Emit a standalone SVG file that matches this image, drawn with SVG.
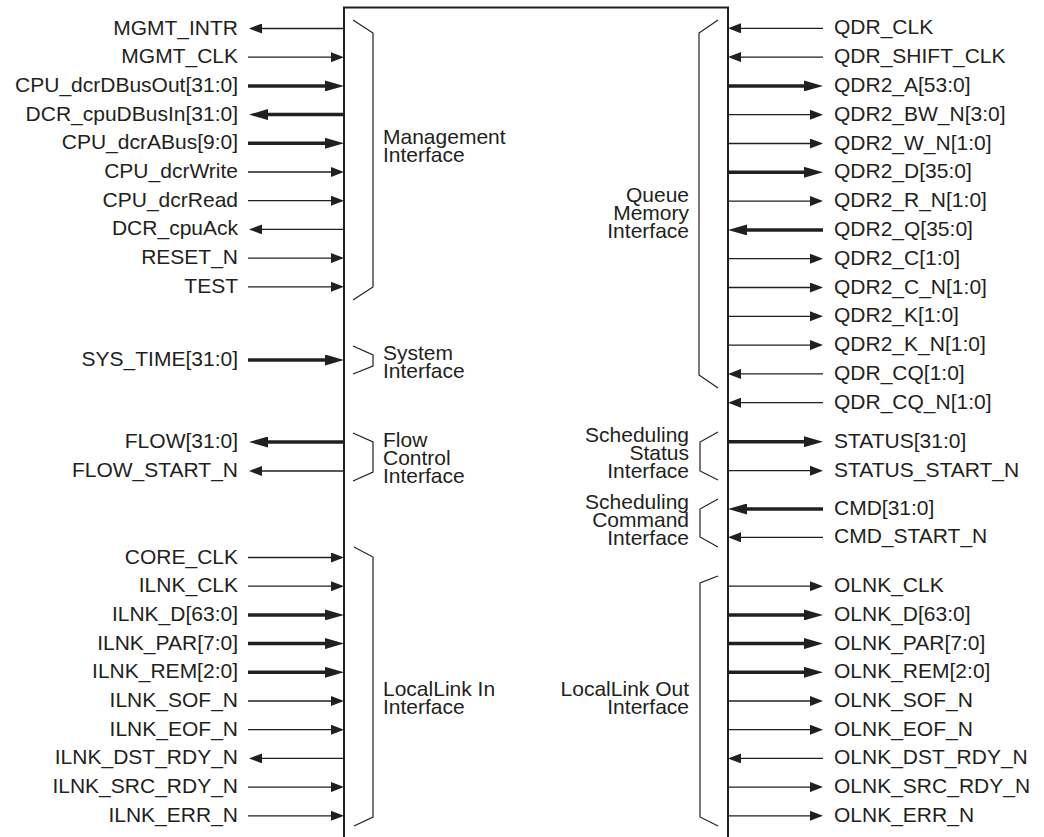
<svg xmlns="http://www.w3.org/2000/svg" width="1044" height="837" viewBox="0 0 1044 837">
<style>
.t{font-family:"Liberation Sans",Arial,Helvetica,sans-serif;font-size:21px;fill:#231f20}
.e{text-anchor:end}
.n{stroke:#231f20;stroke-width:1.3;fill:none}
.k{stroke:#231f20;stroke-width:3.5;fill:none}
.b{stroke:#231f20;stroke-width:1.2;fill:none}
</style>
<defs>
<marker id="an" markerUnits="userSpaceOnUse" markerWidth="13" markerHeight="10" refX="0" refY="5" orient="auto"><path d="M0,0 L13,5 L0,10 z" fill="#231f20"/></marker>
<marker id="ak" markerUnits="userSpaceOnUse" markerWidth="19" markerHeight="11" refX="0" refY="5.5" orient="auto"><path d="M0,0 L19,5.5 L0,11 z" fill="#231f20"/></marker>
</defs>
<rect width="1044" height="837" fill="#fff"/>
<g id="block">
<rect x="344" y="7.5" width="384" height="840" fill="none" stroke="#231f20" stroke-width="2"/>
</g>
<g id="brackets">
<path class="b" d="M353,20 L373,33 L373,287 L353,300"/>
<path class="b" d="M718,20 L699,33 L699,375 L718,388"/>
<path class="b" d="M353,346 L373,355 L373,366 L353,374"/>
<path class="b" d="M353,433 L373,442 L373,472 L353,481"/>
<path class="b" d="M718,432 L700,442 L700,471 L718,480"/>
<path class="b" d="M718,499 L700,509 L700,537 L718,547"/>
<path class="b" d="M354,547 L373,557 L373,817 L354,826"/>
<path class="b" d="M718,576 L700,583 L700,817 L718,826"/>
</g>
<g id="interface-labels" class="t">
<text x="383" y="144">Management</text><text x="383" y="162">Interface</text>
<text class="e" x="689" y="202">Queue</text><text class="e" x="689" y="220">Memory</text><text class="e" x="689" y="238">Interface</text>
<text x="383" y="360">System</text><text x="383" y="378">Interface</text>
<text x="383" y="447">Flow</text><text x="383" y="465">Control</text><text x="383" y="483">Interface</text>
<text class="e" x="689" y="442">Scheduling</text><text class="e" x="689" y="460">Status</text><text class="e" x="689" y="478">Interface</text>
<text class="e" x="689" y="509">Scheduling</text><text class="e" x="689" y="527">Command</text><text class="e" x="689" y="545">Interface</text>
<text x="383" y="696">LocalLink In</text><text x="383" y="714">Interface</text>
<text class="e" x="689" y="696">LocalLink Out</text><text class="e" x="689" y="714">Interface</text>
</g>
<g id="left-signals" class="t e">
<text x="238" y="34.5">MGMT_INTR</text>
<text x="238" y="63.2">MGMT_CLK</text>
<text x="238" y="91.9">CPU_dcrDBusOut[31:0]</text>
<text x="238" y="120.6">DCR_cpuDBusIn[31:0]</text>
<text x="238" y="149.3">CPU_dcrABus[9:0]</text>
<text x="238" y="178">CPU_dcrWrite</text>
<text x="238" y="206.7">CPU_dcrRead</text>
<text x="238" y="235.4">DCR_cpuAck</text>
<text x="238" y="264.1">RESET_N</text>
<text x="238" y="292.8">TEST</text>
<text x="238" y="366">SYS_TIME[31:0]</text>
<text x="238" y="448">FLOW[31:0]</text>
<text x="238" y="477">FLOW_START_N</text>
<text x="238" y="563.5">CORE_CLK</text>
<text x="238" y="592.2">ILNK_CLK</text>
<text x="238" y="620.9">ILNK_D[63:0]</text>
<text x="238" y="649.6">ILNK_PAR[7:0]</text>
<text x="238" y="678.3">ILNK_REM[2:0]</text>
<text x="238" y="707">ILNK_SOF_N</text>
<text x="238" y="735.7">ILNK_EOF_N</text>
<text x="238" y="764.4">ILNK_DST_RDY_N</text>
<text x="238" y="793.1">ILNK_SRC_RDY_N</text>
<text x="238" y="821.8">ILNK_ERR_N</text>
</g>
<g id="right-signals" class="t">
<text x="834" y="34.3">QDR_CLK</text>
<text x="834" y="63.1">QDR_SHIFT_CLK</text>
<text x="834" y="91.9">QDR2_A[53:0]</text>
<text x="834" y="120.7">QDR2_BW_N[3:0]</text>
<text x="834" y="149.5">QDR2_W_N[1:0]</text>
<text x="834" y="178.3">QDR2_D[35:0]</text>
<text x="834" y="207.1">QDR2_R_N[1:0]</text>
<text x="834" y="235.9">QDR2_Q[35:0]</text>
<text x="834" y="264.7">QDR2_C[1:0]</text>
<text x="834" y="293.5">QDR2_C_N[1:0]</text>
<text x="834" y="322.3">QDR2_K[1:0]</text>
<text x="834" y="351.1">QDR2_K_N[1:0]</text>
<text x="834" y="379.9">QDR_CQ[1:0]</text>
<text x="834" y="408.7">QDR_CQ_N[1:0]</text>
<text x="834" y="447.7">STATUS[31:0]</text>
<text x="834" y="476.7">STATUS_START_N</text>
<text x="834" y="515">CMD[31:0]</text>
<text x="834" y="543.3">CMD_START_N</text>
<text x="834" y="592.2">OLNK_CLK</text>
<text x="834" y="620.9">OLNK_D[63:0]</text>
<text x="834" y="649.6">OLNK_PAR[7:0]</text>
<text x="834" y="678.3">OLNK_REM[2:0]</text>
<text x="834" y="707">OLNK_SOF_N</text>
<text x="834" y="735.7">OLNK_EOF_N</text>
<text x="834" y="764.4">OLNK_DST_RDY_N</text>
<text x="834" y="793.1">OLNK_SRC_RDY_N</text>
<text x="834" y="821.8">OLNK_ERR_N</text>
</g>
<g id="connectors">
<line class="n" x1="344" y1="28.5" x2="262" y2="28.5" marker-end="url(#an)"/>
<line class="n" x1="248" y1="57.2" x2="331" y2="57.2" marker-end="url(#an)"/>
<line class="k" x1="248" y1="85.9" x2="325" y2="85.9" marker-end="url(#ak)"/>
<line class="k" x1="344" y1="114.6" x2="268" y2="114.6" marker-end="url(#ak)"/>
<line class="k" x1="248" y1="143.3" x2="325" y2="143.3" marker-end="url(#ak)"/>
<line class="n" x1="248" y1="172" x2="331" y2="172" marker-end="url(#an)"/>
<line class="n" x1="248" y1="200.7" x2="331" y2="200.7" marker-end="url(#an)"/>
<line class="n" x1="344" y1="229.4" x2="262" y2="229.4" marker-end="url(#an)"/>
<line class="n" x1="248" y1="258.1" x2="331" y2="258.1" marker-end="url(#an)"/>
<line class="n" x1="248" y1="286.8" x2="331" y2="286.8" marker-end="url(#an)"/>
<line class="k" x1="248" y1="360" x2="325" y2="360" marker-end="url(#ak)"/>
<line class="k" x1="344" y1="442" x2="268" y2="442" marker-end="url(#ak)"/>
<line class="n" x1="344" y1="471" x2="262" y2="471" marker-end="url(#an)"/>
<line class="n" x1="248" y1="557.5" x2="331" y2="557.5" marker-end="url(#an)"/>
<line class="n" x1="248" y1="586.2" x2="331" y2="586.2" marker-end="url(#an)"/>
<line class="k" x1="248" y1="614.9" x2="325" y2="614.9" marker-end="url(#ak)"/>
<line class="k" x1="248" y1="643.6" x2="325" y2="643.6" marker-end="url(#ak)"/>
<line class="k" x1="248" y1="672.3" x2="325" y2="672.3" marker-end="url(#ak)"/>
<line class="n" x1="248" y1="701" x2="331" y2="701" marker-end="url(#an)"/>
<line class="n" x1="248" y1="729.7" x2="331" y2="729.7" marker-end="url(#an)"/>
<line class="n" x1="344" y1="758.4" x2="262" y2="758.4" marker-end="url(#an)"/>
<line class="n" x1="248" y1="787.1" x2="331" y2="787.1" marker-end="url(#an)"/>
<line class="n" x1="248" y1="815.8" x2="331" y2="815.8" marker-end="url(#an)"/>

<line class="n" x1="823" y1="28.3" x2="741" y2="28.3" marker-end="url(#an)"/>
<line class="n" x1="823" y1="57.1" x2="741" y2="57.1" marker-end="url(#an)"/>
<line class="k" x1="728" y1="85.9" x2="804" y2="85.9" marker-end="url(#ak)"/>
<line class="n" x1="728" y1="114.7" x2="810" y2="114.7" marker-end="url(#an)"/>
<line class="n" x1="728" y1="143.5" x2="810" y2="143.5" marker-end="url(#an)"/>
<line class="k" x1="728" y1="172.3" x2="804" y2="172.3" marker-end="url(#ak)"/>
<line class="n" x1="728" y1="201.1" x2="810" y2="201.1" marker-end="url(#an)"/>
<line class="k" x1="823" y1="229.9" x2="747" y2="229.9" marker-end="url(#ak)"/>
<line class="n" x1="728" y1="258.7" x2="810" y2="258.7" marker-end="url(#an)"/>
<line class="n" x1="728" y1="287.5" x2="810" y2="287.5" marker-end="url(#an)"/>
<line class="n" x1="728" y1="316.3" x2="810" y2="316.3" marker-end="url(#an)"/>
<line class="n" x1="728" y1="345.1" x2="810" y2="345.1" marker-end="url(#an)"/>
<line class="n" x1="823" y1="373.9" x2="741" y2="373.9" marker-end="url(#an)"/>
<line class="n" x1="823" y1="402.7" x2="741" y2="402.7" marker-end="url(#an)"/>
<line class="k" x1="728" y1="441.7" x2="804" y2="441.7" marker-end="url(#ak)"/>
<line class="n" x1="728" y1="470.7" x2="810" y2="470.7" marker-end="url(#an)"/>
<line class="k" x1="823" y1="509" x2="747" y2="509" marker-end="url(#ak)"/>
<line class="n" x1="823" y1="537.3" x2="741" y2="537.3" marker-end="url(#an)"/>
<line class="n" x1="728" y1="586.2" x2="810" y2="586.2" marker-end="url(#an)"/>
<line class="k" x1="728" y1="614.9" x2="804" y2="614.9" marker-end="url(#ak)"/>
<line class="k" x1="728" y1="643.6" x2="804" y2="643.6" marker-end="url(#ak)"/>
<line class="k" x1="728" y1="672.3" x2="804" y2="672.3" marker-end="url(#ak)"/>
<line class="n" x1="728" y1="701" x2="810" y2="701" marker-end="url(#an)"/>
<line class="n" x1="728" y1="729.7" x2="810" y2="729.7" marker-end="url(#an)"/>
<line class="n" x1="823" y1="758.4" x2="741" y2="758.4" marker-end="url(#an)"/>
<line class="n" x1="728" y1="787.1" x2="810" y2="787.1" marker-end="url(#an)"/>
<line class="n" x1="728" y1="815.8" x2="810" y2="815.8" marker-end="url(#an)"/>
</g>
</svg>
